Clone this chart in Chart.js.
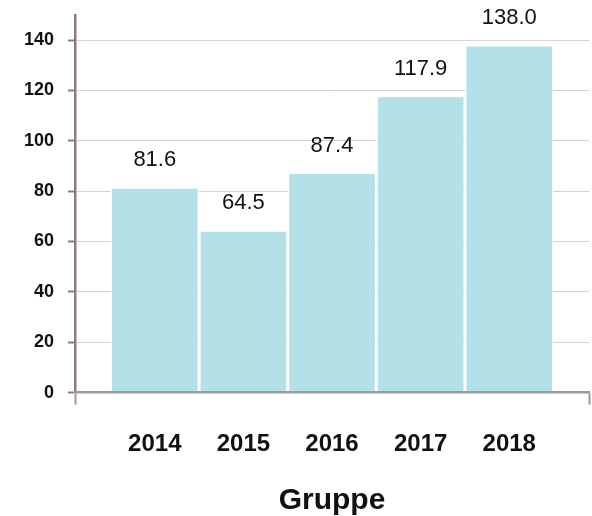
<!DOCTYPE html>
<html>
<head>
<meta charset="utf-8">
<script src="https://cdn.jsdelivr.net/npm/chart.js@4.4.0/dist/chart.umd.min.js"></script>
<style>
  html, body { margin: 0; padding: 0; background: #fff; }
  #wrap { width: 592px; height: 516px; }
</style>
</head>
<body>
<div id="wrap"><canvas id="chart" width="592" height="516"></canvas></div>
<script>
// Données
const years = [2014, 2015, 2016, 2017, 2018];
const values = [81.6, 64.5, 87.4, 117.9, 138.0];
const yTicks = [0, 20, 40, 60, 80, 100, 120, 140];
const axisTitle = 'Gruppe';

// Limites des axes (l'axe X dépasse un peu les barres)
const xMin = 2013.1;
const xMax = 2018.9;

const FONT = "'Liberation Sans', Arial, sans-serif";

// Étiquettes de valeur au-dessus des barres
const valueLabels = {
    id: 'valueLabels',
    afterDatasetsDraw(chart) {
        const ctx = chart.ctx;
        const meta = chart.getDatasetMeta(0);
        ctx.save();
        ctx.font = '22px ' + FONT;
        ctx.fillStyle = '#111';
        ctx.textAlign = 'center';
        ctx.textBaseline = 'middle';
        meta.data.forEach((bar, i) => {
            ctx.fillText(values[i].toFixed(1), bar.x, bar.y - 27);
        });
        ctx.restore();
    }
};

const ctx = document.getElementById('chart').getContext('2d');
new Chart(ctx, {
    type: 'bar',
    data: {
        datasets: [{
            label: axisTitle,
            data: years.map((y, i) => ({ x: y, y: values[i] })),
            backgroundColor: '#b3e1e7',
            borderColor: '#ffffff',
            borderWidth: 1.5,
            // les ticks de bord (0.9 unité) réduisent l'écart minimal -> on compense
            barPercentage: 1 / (years[0] - xMin),
            categoryPercentage: 1
        }]
    },
    options: {
        responsive: false,
        animation: false,
        layout: { padding: { left: 10, right: 2, top: 0, bottom: 0 } },
        plugins: {
            legend: { display: false },
            tooltip: { enabled: false }
        },
        scales: {
            x: {
                type: 'linear',
                min: xMin,
                max: xMax,
                offset: false,
                afterBuildTicks: axis => {
                    axis.ticks = [xMin, ...years, xMax].map(v => ({ value: v }));
                },
                ticks: {
                    autoSkip: false,
                    maxRotation: 0,
                    padding: 3,
                    color: '#111',
                    // grande hauteur de ligne pour descendre les libellés
                    font: { family: FONT, size: 24, weight: 'bold', lineHeight: 3.1 },
                    callback: v => years.includes(v) ? String(v) : ''
                },
                grid: {
                    offset: false,
                    drawOnChartArea: false,
                    tickLength: 12,
                    tickWidth: 2,
                    tickColor: c => (c.tick && years.includes(c.tick.value)) ? 'rgba(0,0,0,0)' : '#9a9a9a'
                },
                // l'axe X passe devant les barres
                border: { color: '#9a9a9a', width: 2.5, z: 1 },
                title: {
                    display: true,
                    text: axisTitle,
                    color: '#111',
                    font: { family: FONT, size: 30, weight: 'bold', lineHeight: 1.0 },
                    padding: { top: 1, bottom: 0 }
                }
            },
            y: {
                min: 0,
                max: 150,
                afterBuildTicks: axis => {
                    axis.ticks = yTicks.map(v => ({ value: v }));
                },
                ticks: {
                    padding: 14,
                    color: '#111',
                    font: { family: FONT, size: 18, weight: 'bold', lineHeight: 0.1 }
                },
                grid: {
                    color: '#d2d2d2',
                    lineWidth: 1,
                    tickLength: 7,
                    tickColor: '#937878',
                    tickWidth: 2
                },
                border: { color: '#937878', width: 2.5 }
            }
        }
    },
    plugins: [valueLabels]
});
</script>
</body>
</html>
